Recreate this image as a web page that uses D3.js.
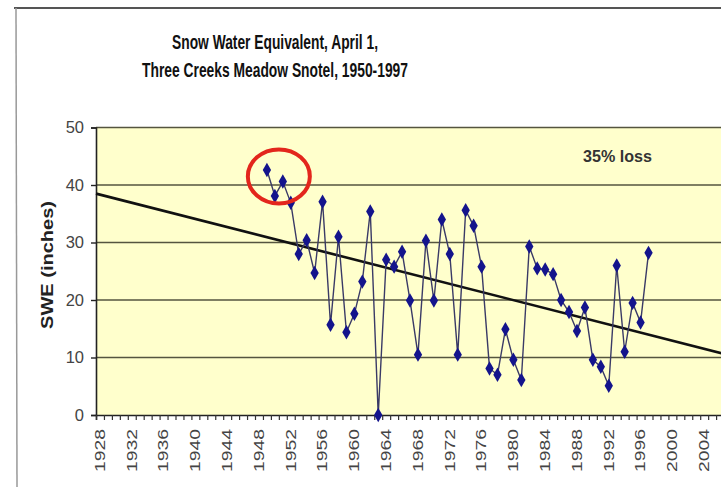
<!DOCTYPE html>
<html>
<head>
<meta charset="utf-8">
<script src="https://cdn.jsdelivr.net/npm/d3@7"></script>
<style>
  html, body { margin: 0; padding: 0; background: #fff; overflow: hidden; }
  text { font-family: "Liberation Sans Narrow", "Arial Narrow", "Liberation Sans", Arial, sans-serif; }
</style>
</head>
<body>
<div id="chart"></div>
<script>
// April 1 snow water equivalent (inches), one value per year
const firstYear = 1949;
const swe = [42.6, 38.1, 40.6, 36.9, 28.0, 30.4, 24.7, 37.1, 15.7, 31.0,
             14.4, 17.6, 23.2, 35.4, 0.0, 27.0, 25.8, 28.4, 19.9, 10.5,
             30.3, 19.9, 34.0, 28.0, 10.5, 35.6, 32.9, 25.8, 8.1, 7.0,
             14.9, 9.6, 6.1, 29.3, 25.5, 25.3, 24.5, 20.0, 17.9, 14.6,
             18.7, 9.6, 8.4, 5.1, 26.0, 11.0, 19.5, 16.1, 28.2];
const years = swe.map((d, i) => firstYear + i);

// linear trend line (ends)
const trendYears = [1927.5, 2008];
const trendValues = [38.5, 10.1];

const yTicks = [0, 10, 20, 30, 40, 50];
const xTickLabels = ["1928", "1932", "1936", "1940", "1944", "1948", "1952", "1956", "1960", "1964",
                     "1968", "1972", "1976", "1980", "1984", "1988", "1992", "1996", "2000", "2004"];

const width = 721, height = 487;
const svg = d3.select("#chart").append("svg")
    .attr("width", width)
    .attr("height", height);

// outer chart frame (right and bottom are cut off)
svg.append("line").attr("x1", 14).attr("x2", width).attr("y1", 8).attr("y2", 8)
    .attr("stroke", "#555").attr("stroke-width", 2);
svg.append("line").attr("x1", 16).attr("x2", 17).attr("y1", 8).attr("y2", height)
    .attr("stroke", "#999").attr("stroke-width", 1.5);

const x = d3.scaleLinear().domain([1927.5, 2009.5]).range([96, 96 + 82 * 7.95]);
const y = d3.scaleLinear().domain([0, 50]).range([415, 127.5]);

// plot area
svg.append("rect")
    .attr("x", x(1927.5)).attr("y", y(50))
    .attr("width", x(2009.5) - x(1927.5)).attr("height", y(0) - y(50))
    .attr("fill", "#ffffcc");

// gridlines
svg.append("g").selectAll("line")
    .data(yTicks.filter(d => d > 0))
    .join("line")
    .attr("x1", x(1927.5)).attr("x2", x(2009.5))
    .attr("y1", d => y(d)).attr("y2", d => y(d))
    .attr("stroke", "#55553f").attr("stroke-width", 1.6);

// title
const title = svg.append("g").attr("font-weight", "bold").attr("fill", "#111")
    .attr("font-size", 20.5).attr("text-anchor", "middle");
title.append("text").attr("x", 275).attr("y", 49)
    .attr("textLength", 206).attr("lengthAdjust", "spacingAndGlyphs")
    .text("Snow Water Equivalent, April 1,");
title.append("text").attr("x", 275).attr("y", 77)
    .attr("textLength", 266).attr("lengthAdjust", "spacingAndGlyphs")
    .text("Three Creeks Meadow Snotel, 1950-1997");

// y axis
const yAxis = svg.append("g")
    .attr("transform", `translate(${x(1927.5)},0)`)
    .call(d3.axisLeft(y).tickValues(yTicks).tickSize(5).tickPadding(7));
yAxis.select(".domain").attr("stroke", "#222").attr("stroke-width", 1.6);
yAxis.selectAll(".tick line").attr("stroke", "#222").attr("stroke-width", 1.4);
yAxis.selectAll(".tick text")
    .attr("font-family", "'Liberation Sans', Arial, sans-serif")
    .attr("font-size", 16.5).attr("fill", "#444");

svg.append("text")
    .attr("transform", "translate(53,265) rotate(-90)")
    .attr("text-anchor", "middle")
    .attr("font-size", 16).attr("font-weight", "bold").attr("fill", "#222")
    .attr("textLength", 128).attr("lengthAdjust", "spacingAndGlyphs")
    .text("SWE (inches)");

// x axis: minor ticks between categories, labels every 4 years
const xAxis = svg.append("g")
    .attr("transform", `translate(0,${y(0)})`)
    .call(d3.axisBottom(x).tickValues(d3.range(1927.5, 2009.6, 1)).tickSize(5).tickFormat(""));
xAxis.select(".domain").attr("stroke", "#222").attr("stroke-width", 1.6);
xAxis.selectAll(".tick line").attr("stroke", "#333").attr("stroke-width", 1.2);

svg.append("g").selectAll("text")
    .data(xTickLabels)
    .join("text")
    .attr("transform", d => `translate(${x(+d)},429) rotate(-90)`)
    .attr("text-anchor", "end")
    .attr("dy", "0.35em")
    .attr("font-family", "'Liberation Sans', Arial, sans-serif")
    .attr("font-size", 14).attr("fill", "#444")
    .attr("textLength", 43).attr("lengthAdjust", "spacingAndGlyphs")
    .text(d => d);

// trend line
svg.append("line")
    .attr("x1", x(trendYears[0])).attr("y1", y(trendValues[0]))
    .attr("x2", x(trendYears[1])).attr("y2", y(trendValues[1]))
    .attr("stroke", "#111").attr("stroke-width", 2.6);

// data series
const line = d3.line().x((d, i) => x(years[i])).y(d => y(d));
svg.append("path")
    .datum(swe)
    .attr("d", line)
    .attr("fill", "none")
    .attr("stroke", "#3a3a66")
    .attr("stroke-width", 1.4);

svg.append("g").selectAll("path")
    .data(swe)
    .join("path")
    .attr("transform", (d, i) => `translate(${x(years[i])},${y(d)})`)
    .attr("d", d3.symbol(d3.symbolDiamond, 60))
    .attr("fill", "#14148c");

// annotation
svg.append("text")
    .attr("x", 583).attr("y", 162)
    .attr("font-size", 17).attr("font-weight", "bold").attr("fill", "#333")
    .attr("textLength", 69).attr("lengthAdjust", "spacingAndGlyphs")
    .text("35% loss");

svg.append("ellipse")
    .attr("cx", x(1950.5)).attr("cy", y(41.5))
    .attr("rx", 31).attr("ry", 27)
    .attr("fill", "none")
    .attr("stroke", "#e3261c").attr("stroke-width", 4);
</script>
</body>
</html>
